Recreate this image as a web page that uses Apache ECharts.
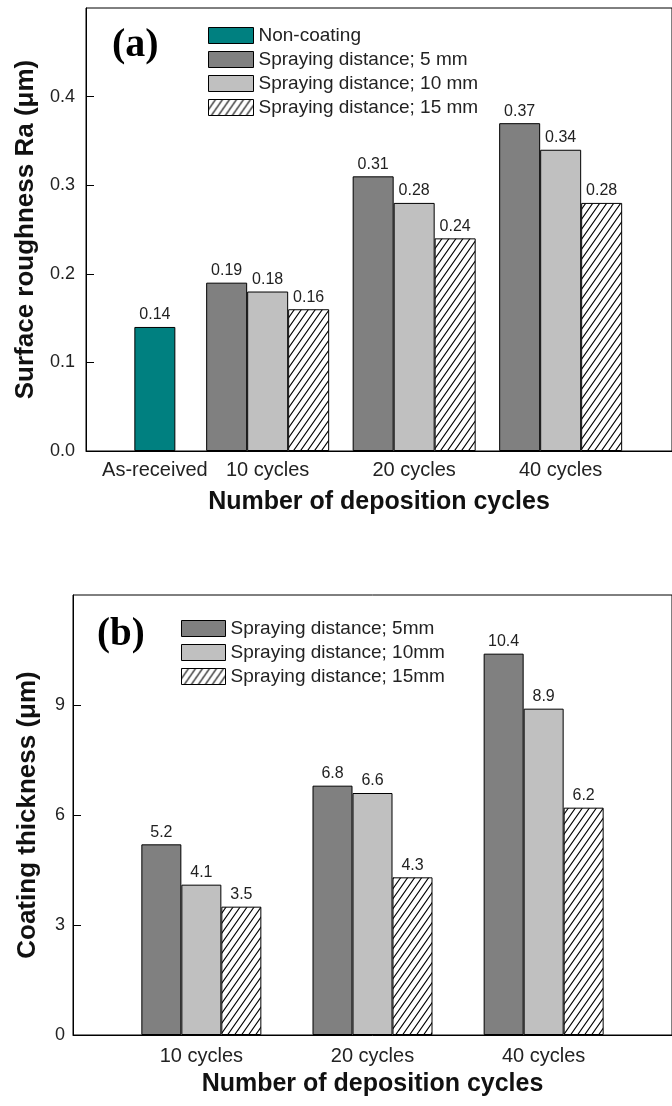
<!DOCTYPE html>
<html><head><meta charset="utf-8">
<script src="https://cdn.jsdelivr.net/npm/echarts@6/dist/echarts.min.js"></script>
<style>html,body{margin:0;padding:0;background:#fff}#c{width:672px;height:1106px}</style>
</head><body><div id="c"></div>
<script>
// ---- Panel (a): surface roughness ----
const categoriesA = ['As-received', '10 cycles', '20 cycles', '40 cycles'];
const positionsA = [0.47, 1.24, 2.24, 3.24];
const nonCoating = [0.14];
const roughness5 = [0.19, 0.31, 0.37];
const roughness10 = [0.18, 0.28, 0.34];
const roughness15 = [0.16, 0.24, 0.28];
const ticksA = [0, 0.1, 0.2, 0.3, 0.4];
const namesA = ['Non-coating', 'Spraying distance; 5 mm', 'Spraying distance; 10 mm', 'Spraying distance; 15 mm'];

// ---- Panel (b): coating thickness ----
const categoriesB = ['10 cycles', '20 cycles', '40 cycles'];
const positionsB = [0.75, 1.75, 2.75];
const thickness5 = [5.2, 6.8, 10.4];
const thickness10 = [4.1, 6.6, 8.9];
const thickness15 = [3.5, 4.3, 6.2];
const ticksB = [0, 3, 6, 9];
const namesB = ['Spraying distance; 5mm', 'Spraying distance; 10mm', 'Spraying distance; 15mm'];

const FONT = '"Liberation Sans", Arial, sans-serif';
const SERIF = '"Liberation Serif", "Times New Roman", serif';

function makeHatch() {
  const w = 7, h = 10;
  const c = document.createElement('canvas');
  c.width = w; c.height = h;
  const g = c.getContext('2d');
  g.fillStyle = '#fff'; g.fillRect(0, 0, w, h);
  g.strokeStyle = '#000'; g.lineWidth = 1.1;
  g.beginPath();
  g.moveTo(-w, 2 * h); g.lineTo(2 * w, -h);
  g.moveTo(0, 2 * h); g.lineTo(3 * w, -h);
  g.moveTo(-2 * w, 2 * h); g.lineTo(w, -h);
  g.stroke();
  return c;
}
const hatch = { image: makeHatch(), repeat: 'repeat' };

function labelFor(v, pos, cats) {
  let best = 0, d = Infinity;
  pos.forEach((p, i) => { if (Math.abs(p - v) < d) { d = Math.abs(p - v); best = i; } });
  return d < 1e-6 ? cats[best] : '';
}
const border = { borderColor: '#000', borderWidth: 1 };
const lbl = (dec) => ({ show: true, position: 'top', distance: 4, fontSize: 16, color: '#222', fontFamily: FONT,
  formatter: p => p.value[1].toFixed(dec) });

const axisLine = { show: true, lineStyle: { color: '#000', width: 1 } };
const nameStyle = (size) => ({ fontSize: size, fontWeight: 'bold', color: '#111', fontFamily: FONT });

const option = {
  animation: false,
  backgroundColor: '#fff',
  title: [
    { text: '(a)', left: 112, top: 26, padding: 0, textStyle: { fontFamily: SERIF, fontWeight: 'bold', fontSize: 40, color: '#000' } },
    { text: '(b)', left: 97, top: 615, padding: 0, textStyle: { fontFamily: SERIF, fontWeight: 'bold', fontSize: 39, color: '#000' } }
  ],
  legend: [
    { data: namesA, orient: 'vertical', left: 208, top: 26, itemWidth: 45, itemHeight: 16, itemGap: 5, padding: 0,
      icon: 'rect', selectedMode: false, itemStyle: { borderColor: '#000', borderWidth: 1 },
      textStyle: { fontSize: 19, color: '#222', fontFamily: FONT } },
    { data: namesB, orient: 'vertical', left: 181, top: 619, itemWidth: 44, itemHeight: 16, itemGap: 5, padding: 0,
      icon: 'rect', selectedMode: false, itemStyle: { borderColor: '#000', borderWidth: 1 },
      textStyle: { fontSize: 19, color: '#222', fontFamily: FONT } }
  ],
  grid: [
    { left: 86, top: 8, width: 596, height: 443, show: true, borderColor: '#000', borderWidth: 1 },
    { left: 73, top: 595, width: 607, height: 440, show: true, borderColor: '#000', borderWidth: 1 }
  ],
  xAxis: [
    { type: 'value', gridIndex: 0, min: 0, max: 4, axisLine: axisLine, axisTick: { show: false }, splitLine: { show: false },
      axisLabel: { customValues: positionsA, formatter: v => labelFor(v, positionsA, categoriesA), fontSize: 20, color: '#222', margin: 9, fontFamily: FONT },
      name: 'Number of deposition cycles', nameLocation: 'middle', nameGap: 39, nameTextStyle: nameStyle(25) },
    { type: 'value', gridIndex: 0, min: 0, max: 4, show: false },
    { type: 'value', gridIndex: 1, min: 0, max: 3.5, axisLine: axisLine, axisTick: { show: false }, splitLine: { show: false },
      axisLabel: { customValues: positionsB, formatter: v => labelFor(v, positionsB, categoriesB), fontSize: 20, color: '#222', margin: 11, fontFamily: FONT },
      name: 'Number of deposition cycles', nameLocation: 'middle', nameGap: 37, nameTextStyle: nameStyle(25) }
  ],
  yAxis: [
    { type: 'value', gridIndex: 0, min: 0, max: 0.5, axisLine: axisLine, splitLine: { show: false },
      axisTick: { show: true, inside: true, length: 8, customValues: ticksA, lineStyle: { color: '#000' } },
      axisLabel: { customValues: ticksA, formatter: v => v.toFixed(1), fontSize: 18, color: '#222', margin: 11, fontFamily: FONT },
      name: 'Surface roughness Ra (μm)', nameLocation: 'middle', nameGap: 47, nameTextStyle: nameStyle(26) },
    { type: 'value', gridIndex: 1, min: 0, max: 12, axisLine: axisLine, splitLine: { show: false },
      axisTick: { show: true, inside: true, length: 8, customValues: ticksB, lineStyle: { color: '#000' } },
      axisLabel: { customValues: ticksB, formatter: v => String(v), fontSize: 18, color: '#222', margin: 8, fontFamily: FONT },
      name: 'Coating thickness (μm)', nameLocation: 'middle', nameGap: 32, nameTextStyle: nameStyle(26) }
  ],
  series: [
    { name: namesA[0], type: 'bar', xAxisIndex: 1, yAxisIndex: 0, barWidth: 41,
      data: nonCoating.map(v => [positionsA[0], v]), itemStyle: Object.assign({ color: '#008080' }, border), label: lbl(2) },
    { name: namesA[1], type: 'bar', xAxisIndex: 0, yAxisIndex: 0, barWidth: 41, barGap: '0%',
      data: roughness5.map((v, i) => [positionsA[i + 1], v]), itemStyle: Object.assign({ color: '#808080' }, border), label: lbl(2) },
    { name: namesA[2], type: 'bar', xAxisIndex: 0, yAxisIndex: 0, barWidth: 41, barGap: '0%',
      data: roughness10.map((v, i) => [positionsA[i + 1], v]), itemStyle: Object.assign({ color: '#c0c0c0' }, border), label: lbl(2) },
    { name: namesA[3], type: 'bar', xAxisIndex: 0, yAxisIndex: 0, barWidth: 41, barGap: '0%',
      data: roughness15.map((v, i) => [positionsA[i + 1], v]), itemStyle: Object.assign({ color: hatch }, border), label: lbl(2) },
    { name: namesB[0], type: 'bar', xAxisIndex: 2, yAxisIndex: 1, barWidth: 40, barGap: '0%',
      data: thickness5.map((v, i) => [positionsB[i], v]), itemStyle: Object.assign({ color: '#808080' }, border), label: lbl(1) },
    { name: namesB[1], type: 'bar', xAxisIndex: 2, yAxisIndex: 1, barWidth: 40, barGap: '0%',
      data: thickness10.map((v, i) => [positionsB[i], v]), itemStyle: Object.assign({ color: '#c0c0c0' }, border), label: lbl(1) },
    { name: namesB[2], type: 'bar', xAxisIndex: 2, yAxisIndex: 1, barWidth: 40, barGap: '0%',
      data: thickness15.map((v, i) => [positionsB[i], v]), itemStyle: Object.assign({ color: hatch }, border), label: lbl(1) }
  ]
};
const chart = echarts.init(document.getElementById('c'), null, { renderer: 'canvas' });
chart.setOption(option);
</script>
</body></html>
